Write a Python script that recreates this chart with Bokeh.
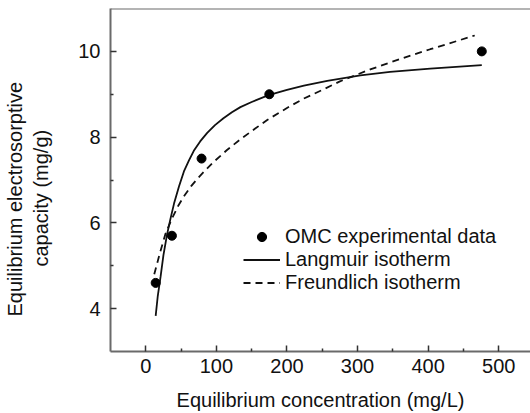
from bokeh.plotting import figure
from bokeh.models import Range1d, Legend, LegendItem, Span, FixedTicker, Title
from bokeh.embed import file_html
from bokeh.resources import INLINE

# experimental data
conc = [14, 37, 79, 175, 476]
capacity = [4.6, 5.7, 7.5, 9.0, 10.0]

# Langmuir isotherm curve
lang_c = [14, 17, 21, 25, 30, 35, 40, 47, 54, 61, 68, 77, 87, 98, 110, 122, 134, 150,
          174, 200, 224, 257, 304, 346, 403, 476]
lang_q = [3.83, 4.3, 4.75, 5.25, 5.72, 6.1, 6.45, 6.85, 7.2, 7.45, 7.68, 7.9, 8.1, 8.28,
          8.44, 8.58, 8.70, 8.82, 8.98, 9.1, 9.2, 9.31, 9.44, 9.52, 9.60, 9.68]

# Freundlich isotherm curve
freu_c = [12, 20, 28, 37, 46, 54, 64, 73, 84, 96, 115, 134, 155, 172, 200, 224, 250,
          275, 318, 360, 403, 466]
freu_q = [4.8, 5.3, 5.75, 6.1, 6.4, 6.62, 6.85, 7.03, 7.22, 7.42, 7.7, 7.95, 8.2, 8.4,
          8.68, 8.9, 9.1, 9.3, 9.58, 9.82, 10.05, 10.37]

x_ticks = [0, 100, 200, 300, 400, 500]
y_ticks = [4, 6, 8, 10]
x_label = "Equilibrium concentration (mg/L)"
y_label_lines = ["Equilibrium electrosorptive", "capacity (mg/g)"]

FONT = "Liberation Sans"
AXIS_COLOR = "#6a6a6a"
TEXT_COLOR = "#111111"

p = figure(width=530, height=413, output_backend="svg", toolbar_location=None,
           x_range=Range1d(-50, 545), y_range=Range1d(3, 11),
           min_border_left=110, min_border_top=8, min_border_bottom=61,
           min_border_right=0)
p.background_fill_color = "white"
p.border_fill_color = "white"
p.outline_line_color = None
p.grid.visible = False

top_line = Span(location=11, dimension="width", line_color=AXIS_COLOR, line_width=2)
p.add_layout(top_line)

for ax in (p.xaxis[0], p.yaxis[0]):
    ax.axis_line_color = AXIS_COLOR
    ax.axis_line_width = 2
    ax.major_tick_line_color = "#333333"
    ax.minor_tick_line_color = "#333333"
    ax.major_tick_line_width = 1.5
    ax.minor_tick_line_width = 1.5
    ax.major_tick_in = 6
    ax.major_tick_out = 0
    ax.minor_tick_in = 3
    ax.minor_tick_out = 0
    ax.major_label_text_font = FONT
    ax.major_label_text_font_size = "20px"
    ax.major_label_text_color = TEXT_COLOR
    ax.axis_label_text_font = FONT
    ax.axis_label_text_font_size = "20px"
    ax.axis_label_text_font_style = "normal"
    ax.axis_label_text_color = TEXT_COLOR

p.xaxis.ticker = FixedTicker(ticks=x_ticks, minor_ticks=[50, 150, 250, 350, 450])
p.yaxis.ticker = FixedTicker(ticks=y_ticks, minor_ticks=[5, 7, 9])
p.xaxis.major_label_standoff = 7
p.yaxis.major_label_standoff = 10
p.xaxis.axis_label = x_label
p.xaxis.axis_label_standoff = 13

# two-line y-axis title as two titles on the left side (nearest the frame first);
# the trailing newline on the inner line leaves a gap next to the tick labels
p.add_layout(Title(text=y_label_lines[1] + "\n", align="left", offset=85, standoff=4,
                   text_font=FONT, text_font_size="20px", text_font_style="normal",
                   text_color=TEXT_COLOR), "left")
p.add_layout(Title(text=y_label_lines[0], align="left", offset=35, standoff=0,
                   text_font=FONT, text_font_size="20px", text_font_style="normal",
                   text_color=TEXT_COLOR), "left")

r_l = p.line(lang_c, lang_q, line_color="#111111", line_width=1.8)
r_f = p.line(freu_c, freu_q, line_color="#111111", line_width=1.8, line_dash="7 5")
r_d = p.scatter(conc, capacity, marker="circle", size=9, fill_color="#000000",
                line_color="#000000")

legend = Legend(items=[LegendItem(label="OMC experimental data", renderers=[r_d]),
                       LegendItem(label="Langmuir isotherm", renderers=[r_l]),
                       LegendItem(label="Freundlich isotherm", renderers=[r_f])],
                location=(133, 57))
legend.background_fill_alpha = 0
legend.border_line_color = None
legend.padding = 0
legend.margin = 0
legend.spacing = 0
legend.glyph_width = 37
legend.glyph_height = 23
legend.label_height = 23
legend.label_standoff = 5
legend.label_text_font = FONT
legend.label_text_font_size = "20px"
legend.label_text_color = TEXT_COLOR
p.add_layout(legend)

open("out.html", "w").write(file_html(p, INLINE))
